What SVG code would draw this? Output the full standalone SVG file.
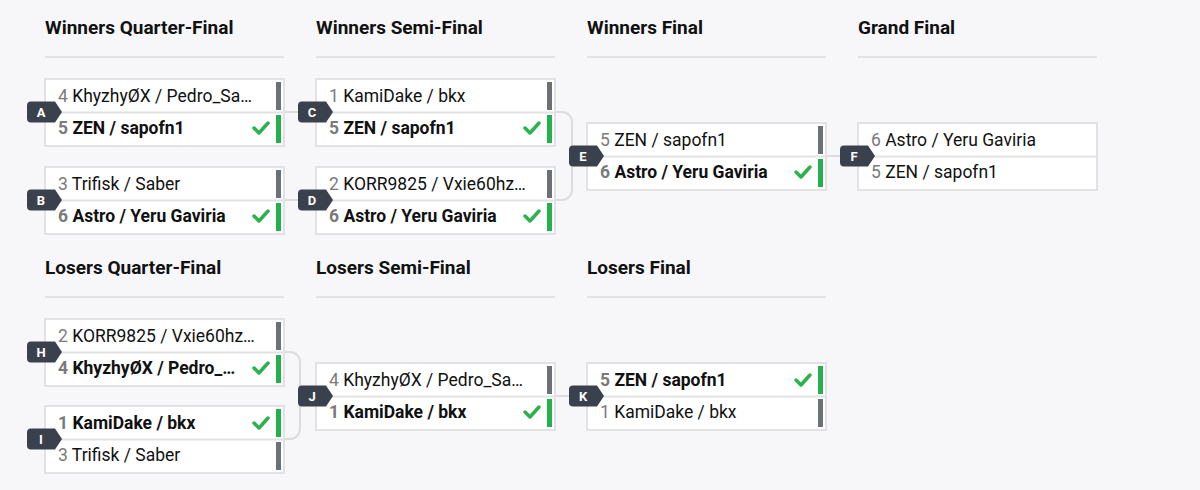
<svg xmlns="http://www.w3.org/2000/svg" width="1200" height="490" viewBox="0 0 1200 490">
<defs>
<style>
.bg{fill:#f7f7f9}
.hd{font-family:Roboto,"Liberation Sans",sans-serif;font-size:19px;font-weight:700;fill:#111}
.ul{stroke:#e3e3e7;stroke-width:2}
.box{fill:#fff;stroke:#e2e2e4;stroke-width:2}
.div{stroke:#e2e2e4;stroke-width:2}
.t{font-family:Roboto,"Liberation Sans",sans-serif;font-size:17.5px;fill:#111}
.w{font-weight:700}
.s{fill:#7a7a7a}
.bl{fill:#6b7079}
.bw{fill:#22b14c}
.ck{fill:none;stroke:#2bb24c;stroke-width:3.5;stroke-linecap:round;stroke-linejoin:round}
.bd{fill:#3a414c}
.bt{font-family:Roboto,"Liberation Sans",sans-serif;font-size:13px;font-weight:700;fill:#fff;text-anchor:middle}
.cn{fill:none;stroke:#dcdcdf;stroke-width:2}
</style>
<path id="badge" d="M4,-10.5 H28 L35,0 L28,10.5 H4 A4,4 0 0 1 0,6.5 V-6.5 A4,4 0 0 1 4,-10.5 Z"/>
<path id="check" d="M0,5 L5,10 L14,0"/>
</defs>
<rect class="bg" width="1200" height="490"/>

<g id="headers">
<text class="hd" x="45" y="34">Winners Quarter-Final</text>
<line class="ul" x1="45" y1="57" x2="284" y2="57"/>
<text class="hd" x="316" y="34">Winners Semi-Final</text>
<line class="ul" x1="316" y1="57" x2="555" y2="57"/>
<text class="hd" x="587" y="34">Winners Final</text>
<line class="ul" x1="587" y1="57" x2="826" y2="57"/>
<text class="hd" x="858" y="34">Grand Final</text>
<line class="ul" x1="858" y1="57" x2="1097" y2="57"/>
<text class="hd" x="45" y="274">Losers Quarter-Final</text>
<line class="ul" x1="45" y1="297" x2="284" y2="297"/>
<text class="hd" x="316" y="274">Losers Semi-Final</text>
<line class="ul" x1="316" y1="297" x2="555" y2="297"/>
<text class="hd" x="587" y="274">Losers Final</text>
<line class="ul" x1="587" y1="297" x2="826" y2="297"/>
</g>

<g id="connectors">
<path class="cn" d="M284,112 H316"/>
<path class="cn" d="M284,200 H316"/>
<path class="cn" d="M555,112 H562 A10,10 0 0 1 572,122 V190 A10,10 0 0 1 562,200 H555 M572,156 H587"/>
<path class="cn" d="M826,156 H858"/>
<path class="cn" d="M284,352 H290 A10,10 0 0 1 300,362 V429 A10,10 0 0 1 290,439 H284 M300,396 H316"/>
<path class="cn" d="M555,396 H587"/>
</g>

<g id="match-A" transform="translate(45,79)">
<rect class="box" x="0" y="0" width="239" height="67"/>
<line class="div" x1="0" y1="33.5" x2="239" y2="33.5"/>
<text class="t" x="13" y="23"><tspan class="s">4</tspan> KhyzhyØX / Pedro_Sa…</text>
<text class="t w" x="13" y="54.5"><tspan class="s">5</tspan> ZEN / sapofn1</text>
<rect class="bl" x="231" y="3" width="5" height="28"/>
<rect class="bw" x="231" y="36" width="5" height="28"/>
<use href="#check" class="ck" x="209" y="44"/>
<use href="#badge" class="bd" x="-18" y="33"/>
<text class="bt" x="-4" y="37.5">A</text>
</g>

<g id="match-B" transform="translate(45,167)">
<rect class="box" x="0" y="0" width="239" height="67"/>
<line class="div" x1="0" y1="33.5" x2="239" y2="33.5"/>
<text class="t" x="13" y="23"><tspan class="s">3</tspan> Trifisk / Saber</text>
<text class="t w" x="13" y="54.5"><tspan class="s">6</tspan> Astro / Yeru Gaviria</text>
<rect class="bl" x="231" y="3" width="5" height="28"/>
<rect class="bw" x="231" y="36" width="5" height="28"/>
<use href="#check" class="ck" x="209" y="44"/>
<use href="#badge" class="bd" x="-18" y="33"/>
<text class="bt" x="-4" y="37.5">B</text>
</g>

<g id="match-C" transform="translate(316,79)">
<rect class="box" x="0" y="0" width="239" height="67"/>
<line class="div" x1="0" y1="33.5" x2="239" y2="33.5"/>
<text class="t" x="13" y="23"><tspan class="s">1</tspan> KamiDake / bkx</text>
<text class="t w" x="13" y="54.5"><tspan class="s">5</tspan> ZEN / sapofn1</text>
<rect class="bl" x="231" y="3" width="5" height="28"/>
<rect class="bw" x="231" y="36" width="5" height="28"/>
<use href="#check" class="ck" x="209" y="44"/>
<use href="#badge" class="bd" x="-18" y="33"/>
<text class="bt" x="-4" y="37.5">C</text>
</g>

<g id="match-D" transform="translate(316,167)">
<rect class="box" x="0" y="0" width="239" height="67"/>
<line class="div" x1="0" y1="33.5" x2="239" y2="33.5"/>
<text class="t" x="13" y="23"><tspan class="s">2</tspan> KORR9825 / Vxie60hz…</text>
<text class="t w" x="13" y="54.5"><tspan class="s">6</tspan> Astro / Yeru Gaviria</text>
<rect class="bl" x="231" y="3" width="5" height="28"/>
<rect class="bw" x="231" y="36" width="5" height="28"/>
<use href="#check" class="ck" x="209" y="44"/>
<use href="#badge" class="bd" x="-18" y="33"/>
<text class="bt" x="-4" y="37.5">D</text>
</g>

<g id="match-E" transform="translate(587,123)">
<rect class="box" x="0" y="0" width="239" height="67"/>
<line class="div" x1="0" y1="33.5" x2="239" y2="33.5"/>
<text class="t" x="13" y="23"><tspan class="s">5</tspan> ZEN / sapofn1</text>
<text class="t w" x="13" y="54.5"><tspan class="s">6</tspan> Astro / Yeru Gaviria</text>
<rect class="bl" x="231" y="3" width="5" height="28"/>
<rect class="bw" x="231" y="36" width="5" height="28"/>
<use href="#check" class="ck" x="209" y="44"/>
<use href="#badge" class="bd" x="-18" y="33"/>
<text class="bt" x="-4" y="37.5">E</text>
</g>

<g id="match-F" transform="translate(858,123)">
<rect class="box" x="0" y="0" width="239" height="67"/>
<line class="div" x1="0" y1="33.5" x2="239" y2="33.5"/>
<text class="t" x="13" y="23"><tspan class="s">6</tspan> Astro / Yeru Gaviria</text>
<text class="t" x="13" y="54.5"><tspan class="s">5</tspan> ZEN / sapofn1</text>
<use href="#badge" class="bd" x="-18" y="33"/>
<text class="bt" x="-4" y="37.5">F</text>
</g>

<g id="match-H" transform="translate(45,319)">
<rect class="box" x="0" y="0" width="239" height="67"/>
<line class="div" x1="0" y1="33.5" x2="239" y2="33.5"/>
<text class="t" x="13" y="23"><tspan class="s">2</tspan> KORR9825 / Vxie60hz…</text>
<text class="t w" x="13" y="54.5"><tspan class="s">4</tspan> KhyzhyØX / Pedro_…</text>
<rect class="bl" x="231" y="3" width="5" height="28"/>
<rect class="bw" x="231" y="36" width="5" height="28"/>
<use href="#check" class="ck" x="209" y="44"/>
<use href="#badge" class="bd" x="-18" y="33"/>
<text class="bt" x="-4" y="37.5">H</text>
</g>

<g id="match-I" transform="translate(45,406)">
<rect class="box" x="0" y="0" width="239" height="67"/>
<line class="div" x1="0" y1="33.5" x2="239" y2="33.5"/>
<text class="t w" x="13" y="23"><tspan class="s">1</tspan> KamiDake / bkx</text>
<text class="t" x="13" y="54.5"><tspan class="s">3</tspan> Trifisk / Saber</text>
<rect class="bw" x="231" y="3" width="5" height="28"/>
<rect class="bl" x="231" y="36" width="5" height="28"/>
<use href="#check" class="ck" x="209" y="12"/>
<use href="#badge" class="bd" x="-18" y="33"/>
<text class="bt" x="-4" y="37.5">I</text>
</g>

<g id="match-J" transform="translate(316,363)">
<rect class="box" x="0" y="0" width="239" height="67"/>
<line class="div" x1="0" y1="33.5" x2="239" y2="33.5"/>
<text class="t" x="13" y="23"><tspan class="s">4</tspan> KhyzhyØX / Pedro_Sa…</text>
<text class="t w" x="13" y="54.5"><tspan class="s">1</tspan> KamiDake / bkx</text>
<rect class="bl" x="231" y="3" width="5" height="28"/>
<rect class="bw" x="231" y="36" width="5" height="28"/>
<use href="#check" class="ck" x="209" y="44"/>
<use href="#badge" class="bd" x="-18" y="33"/>
<text class="bt" x="-4" y="37.5">J</text>
</g>

<g id="match-K" transform="translate(587,363)">
<rect class="box" x="0" y="0" width="239" height="67"/>
<line class="div" x1="0" y1="33.5" x2="239" y2="33.5"/>
<text class="t w" x="13" y="23"><tspan class="s">5</tspan> ZEN / sapofn1</text>
<text class="t" x="13" y="54.5"><tspan class="s">1</tspan> KamiDake / bkx</text>
<rect class="bw" x="231" y="3" width="5" height="28"/>
<rect class="bl" x="231" y="36" width="5" height="28"/>
<use href="#check" class="ck" x="209" y="12"/>
<use href="#badge" class="bd" x="-18" y="33"/>
<text class="bt" x="-4" y="37.5">K</text>
</g>
</svg>
